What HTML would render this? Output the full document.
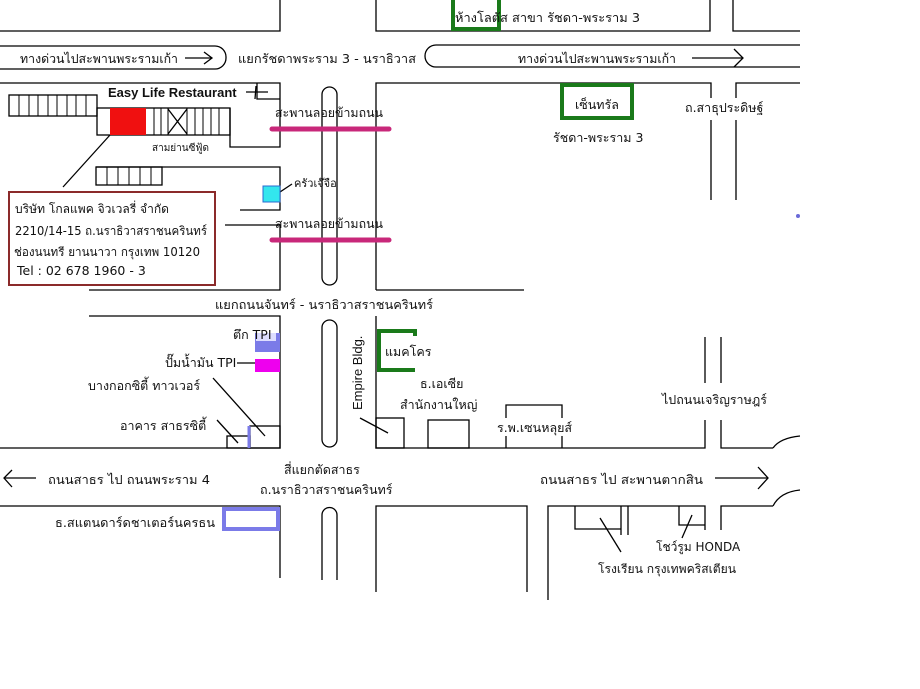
<!DOCTYPE html>
<html><head><meta charset="utf-8"><style>
html,body{margin:0;padding:0;background:#fff;}
svg{display:block;}
text{font-family:"DejaVu Sans","Liberation Sans",sans-serif;font-size:12.5px;fill:#111;}
</style></head><body>
<svg width="920" height="689" viewBox="0 0 920 689" xmlns="http://www.w3.org/2000/svg">
<g stroke="#000" stroke-width="1.3" fill="none">
<polyline points="0,31 280,31 280,0"/>
<polyline points="376,0 376,31 710,31 710,0"/>
<polyline points="733,0 733,31 800,31"/>
<rect x="-20" y="46" width="246" height="23" rx="11"/>
<line x1="185" y1="58" x2="212" y2="58"/><polyline points="204,52 212,58 204,64"/>
<path d="M800,45 H436 A11,11 0 0 0 436,67 H800"/>
<line x1="692" y1="58" x2="743" y2="58"/><polyline points="734,49 743,58 734,67"/>
<polyline points="0,83 280,83 280,147 230,147 230,108"/>
<polyline points="257,83 257,99 280,99"/>
<line x1="246" y1="92" x2="268" y2="92"/><line x1="256" y1="86" x2="255" y2="99"/>
<rect x="9" y="95" width="88" height="21"/>
<rect x="97" y="108" width="133" height="27"/>
<line x1="168" y1="109" x2="187" y2="134"/><line x1="187" y1="109" x2="168" y2="134"/>
<rect x="96" y="167" width="66" height="18"/>
<polyline points="96,167 280,167 280,210 240,210"/>
<line x1="225" y1="225" x2="280" y2="225"/>
<polyline points="280,225 280,290 89,290"/>
<line x1="110" y1="135" x2="63" y2="187"/>
<line x1="280" y1="192" x2="292" y2="184"/>
<rect x="322" y="87" width="15" height="198" rx="7.5"/>
<polyline points="376,290 376,83 711,83 711,200"/>
<line x1="376" y1="290" x2="524" y2="290"/>
<polyline points="736,200 736,83 800,83"/>
<polyline points="89,316 280,316 280,448 0,448"/>
<line x1="237" y1="363" x2="255" y2="363"/>
<line x1="213" y1="378" x2="265" y2="436"/>
<line x1="217" y1="420" x2="238" y2="443"/>
<rect x="227" y="436" width="23" height="12"/>
<rect x="250" y="426" width="30" height="22"/>
<rect x="322" y="320" width="15" height="127" rx="7.5"/>
<polyline points="376,316 376,448 705,448 705,420"/>
<line x1="705" y1="337" x2="705" y2="383"/>
<line x1="721" y1="337" x2="721" y2="383"/>
<polyline points="721,420 721,448 773,448"/>
<path d="M773,448 Q780,438 800,436"/>
<rect x="376" y="418" width="28" height="30"/>
<line x1="360" y1="418" x2="388" y2="433"/>
<rect x="428" y="420" width="41" height="28"/>
<polyline points="506,448 506,405 562,405 562,448"/>
<line x1="4" y1="478" x2="36" y2="478"/><polyline points="12,470 4,478 12,487"/>
<line x1="715" y1="478" x2="768" y2="478"/><polyline points="758,467 768,478 758,489"/>
<polyline points="0,506 280,506 280,578"/>
<path d="M322,580 V515 A7.5,7.5 0 0 1 337,515 V580"/>
<polyline points="376,592 376,506 527,506 527,592"/>
<polyline points="548,600 548,506 705,506 705,530"/>
<polyline points="575,506 575,529 621,529"/>
<line x1="621" y1="506" x2="621" y2="535"/>
<line x1="628" y1="506" x2="628" y2="535"/>
<polyline points="679,506 679,525 705,525"/>
<polyline points="721,530 721,506 773,506"/>
<path d="M773,506 Q780,492 800,490"/>
<line x1="600" y1="518" x2="621" y2="552"/>
<line x1="692" y1="515" x2="682" y2="538"/>
</g>
<g stroke="#000" stroke-width="1">
<line x1="19" y1="95" x2="19" y2="116"/><line x1="29" y1="95" x2="29" y2="116"/><line x1="38" y1="95" x2="38" y2="116"/><line x1="48" y1="95" x2="48" y2="116"/><line x1="57" y1="95" x2="57" y2="116"/><line x1="67" y1="95" x2="67" y2="116"/><line x1="76" y1="95" x2="76" y2="116"/><line x1="86" y1="95" x2="86" y2="116"/>
<line x1="154" y1="108" x2="154" y2="135"/><line x1="161" y1="108" x2="161" y2="135"/><line x1="168" y1="108" x2="168" y2="135"/><line x1="187" y1="108" x2="187" y2="135"/><line x1="195" y1="108" x2="195" y2="135"/><line x1="203" y1="108" x2="203" y2="135"/><line x1="211" y1="108" x2="211" y2="135"/><line x1="219" y1="108" x2="219" y2="135"/>
<line x1="107" y1="167" x2="107" y2="185"/><line x1="118" y1="167" x2="118" y2="185"/><line x1="129" y1="167" x2="129" y2="185"/><line x1="140" y1="167" x2="140" y2="185"/><line x1="151" y1="167" x2="151" y2="185"/>
</g>
<rect x="110" y="108" width="36" height="27" fill="#f01010"/>
<rect x="263" y="186" width="17" height="16" fill="#33e6ee" stroke="#2a6ad0" stroke-width="1"/>
<g stroke="#c8287a" stroke-width="5" stroke-linecap="round">
<line x1="272" y1="129" x2="389" y2="129"/>
<line x1="272" y1="240" x2="389" y2="240"/>
</g>
<rect x="453" y="-4" width="46" height="33" fill="none" stroke="#1a7a1a" stroke-width="4"/>
<rect x="562" y="85" width="70" height="33" fill="none" stroke="#1a7a1a" stroke-width="4"/>
<polyline points="415,336 415,331 379,331 379,370 415,370" fill="none" stroke="#1a7a1a" stroke-width="4"/>
<rect x="255" y="333" width="25" height="19" fill="#7b7be8"/>
<rect x="256" y="333" width="20" height="8" fill="#ddf"/>
<rect x="255" y="359" width="25" height="13" fill="#ee00ee"/>
<line x1="249" y1="426" x2="249" y2="448" stroke="#7b7be8" stroke-width="3"/>
<rect x="224" y="509" width="54" height="20" fill="none" stroke="#7b7be8" stroke-width="4"/>
<circle cx="798" cy="216" r="2" fill="#6a6ad8"/>
<rect x="9" y="192" width="206" height="93" fill="#fff" stroke="#8b2a2a" stroke-width="2"/>
<text x="455" y="22" textLength="185" lengthAdjust="spacingAndGlyphs">ห้างโลตัส สาขา รัชดา-พระราม 3</text>
<text x="20" y="63" textLength="158" lengthAdjust="spacingAndGlyphs">ทางด่วนไปสะพานพระรามเก้า</text>
<text x="238" y="63" textLength="178" lengthAdjust="spacingAndGlyphs">แยกรัชดาพระราม 3 - นราธิวาส</text>
<text x="518" y="63" textLength="158" lengthAdjust="spacingAndGlyphs">ทางด่วนไปสะพานพระรามเก้า</text>
<text x="108" y="97" style="font-family:'Liberation Sans',sans-serif;font-weight:bold;font-size:13px">Easy Life Restaurant</text>
<text x="152" y="151" style="font-size:10px">สามย่านซีฟู้ด</text>
<text x="275" y="117" textLength="108" lengthAdjust="spacingAndGlyphs">สะพานลอยข้ามถนน</text>
<text x="275" y="228" textLength="108" lengthAdjust="spacingAndGlyphs">สะพานลอยข้ามถนน</text>
<text x="294" y="187" style="font-size:11px">ครัวเจ๊จือ</text>
<text x="575" y="109">เซ็นทรัล</text>
<text x="553" y="142">รัชดา-พระราม 3</text>
<rect x="684" y="98" width="80" height="22" fill="#fff"/>
<text x="685" y="112">ถ.สาธุประดิษฐ์</text>
<text x="15" y="213" style="font-size:12px" textLength="154" lengthAdjust="spacingAndGlyphs">บริษัท โกลแพค จิวเวลรี่ จำกัด</text>
<text x="15" y="235" style="font-size:12px" textLength="192" lengthAdjust="spacingAndGlyphs">2210/14-15 ถ.นราธิวาสราชนครินทร์</text>
<text x="14" y="256" style="font-size:12px" textLength="186" lengthAdjust="spacingAndGlyphs">ช่องนนทรี ยานนาวา กรุงเทพ 10120</text>
<text x="17" y="275" style="font-size:12.5px">Tel : 02 678 1960 - 3</text>
<text x="215" y="309" textLength="218" lengthAdjust="spacingAndGlyphs">แยกถนนจันทร์ - นราธิวาสราชนครินทร์</text>
<text x="233" y="339">ตึก TPI</text>
<text x="165" y="367">ปั๊มน้ำมัน TPI</text>
<text x="88" y="390">บางกอกซิตี้ ทาวเวอร์</text>
<text x="120" y="430">อาคาร สาธรซิตี้</text>
<text x="385" y="356">แมคโคร</text>
<text x="0" y="0" transform="translate(362,410) rotate(-90)" style="font-family:'Liberation Sans',sans-serif;font-size:13px">Empire Bldg.</text>
<text x="420" y="388">ธ.เอเซีย</text>
<text x="400" y="409">สำนักงานใหญ่</text>
<rect x="497" y="418" width="80" height="18" fill="#fff"/>
<text x="497" y="432">ร.พ.เซนหลุยส์</text>
<text x="662" y="404">ไปถนนเจริญราษฎร์</text>
<text x="48" y="484" textLength="162" lengthAdjust="spacingAndGlyphs">ถนนสาธร ไป ถนนพระราม 4</text>
<text x="284" y="474">สี่แยกตัดสาธร</text>
<text x="260" y="494">ถ.นราธิวาสราชนครินทร์</text>
<text x="540" y="484" textLength="163" lengthAdjust="spacingAndGlyphs">ถนนสาธร ไป สะพานตากสิน</text>
<text x="55" y="527" textLength="160" lengthAdjust="spacingAndGlyphs">ธ.สแตนดาร์ดชาเตอร์นครธน</text>
<text x="656" y="551" style="font-size:12px">โชว์รูม HONDA</text>
<text x="598" y="573" style="font-size:12px" textLength="138" lengthAdjust="spacingAndGlyphs">โรงเรียน กรุงเทพคริสเตียน</text>
</svg>
</body></html>
